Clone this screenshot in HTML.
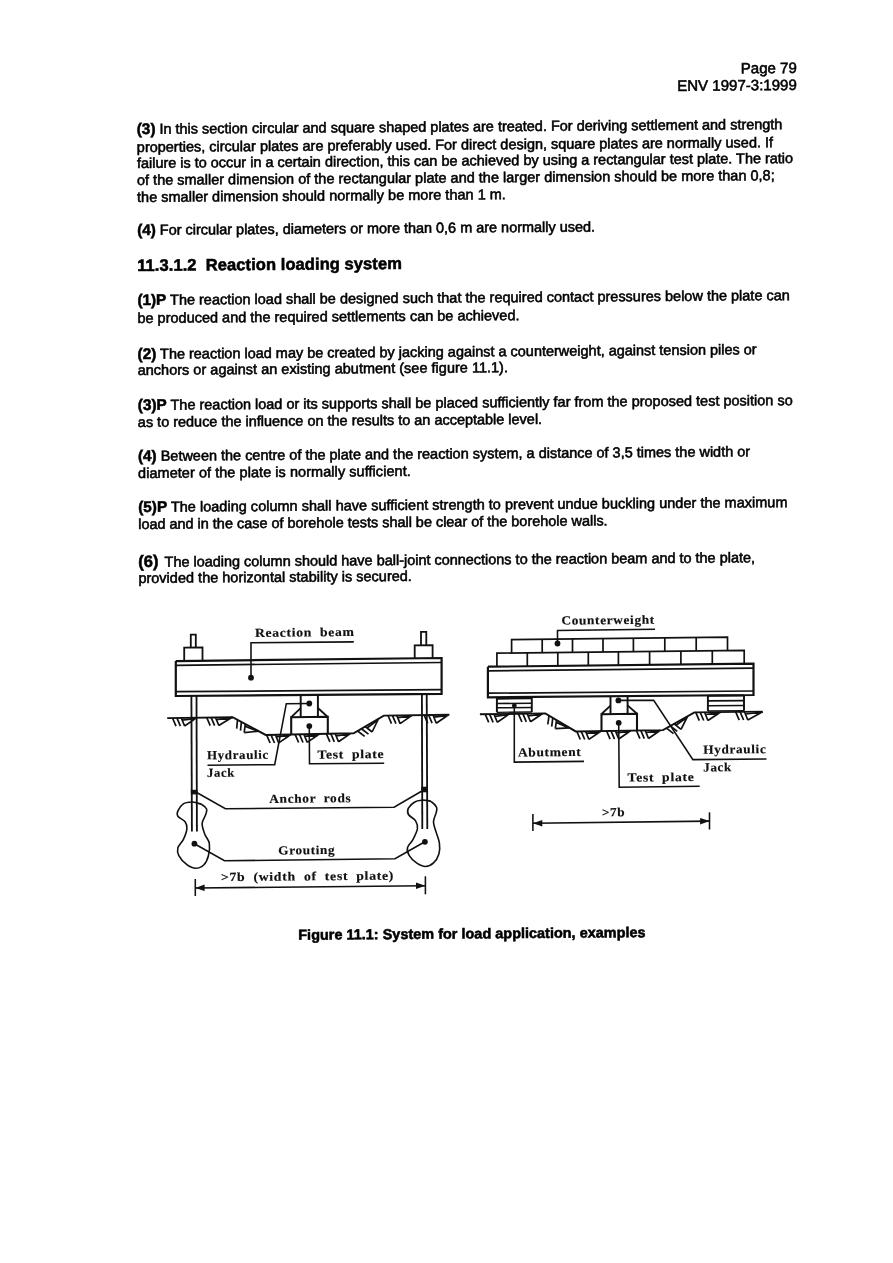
<!DOCTYPE html>
<html><head><meta charset="utf-8"><title>Page 79</title>
<style>
html,body{margin:0;padding:0;background:#fff;}
body{width:893px;height:1263px;position:relative;overflow:hidden;filter:blur(0.35px);font-family:"Liberation Sans",sans-serif;color:#000;}
#rot{position:absolute;left:0;top:0;width:893px;height:1263px;transform-origin:0 0;transform:matrix(1,-0.0075,0.0036,1,0,0);}
.l{position:absolute;white-space:nowrap;font-size:14.47px;line-height:20px;height:20px;-webkit-text-stroke:0.55px #000;}
.r{text-align:right;}
.h{font-weight:bold;font-size:16.55px;}
svg{position:absolute;left:0;top:0;}
svg text{font-family:"Liberation Serif",serif;font-weight:bold;fill:#111;}
</style></head><body>
<div id="rot">
<div class="l r" style="font-size:15.05px;left:496.5px;width:300px;top:64.23px"><span>Page 79</span></div>
<div class="l r" style="font-size:15.05px;left:496.5px;width:300px;top:81.43px"><span>ENV 1997-3:1999</span></div>
<div class="l" style="left:136.3px;top:120.12px;letter-spacing:-0.0039px"><span><b style="font-size:15.3px">(3)</b> In this section circular and square shaped plates are treated. For deriving settlement and strength</span></div>
<div class="l" style="left:136.3px;top:137.62px;letter-spacing:0.0003px"><span>properties, circular plates are preferably used. For direct design, square plates are normally used. If</span></div>
<div class="l" style="left:136.3px;top:154.42px;letter-spacing:-0.0057px"><span>failure is to occur in a certain direction, this can be achieved by using a rectangular test plate. The ratio</span></div>
<div class="l" style="left:136.3px;top:171.22px;letter-spacing:0.0156px"><span>of the smaller dimension of the rectangular plate and the larger dimension should be more than 0,8;</span></div>
<div class="l" style="left:136.3px;top:188.02px;letter-spacing:0.0246px"><span>the smaller dimension should normally be more than 1 m.</span></div>
<div class="l" style="left:136.3px;top:221.12px;letter-spacing:-0.0085px"><span><b style="font-size:15.3px">(4)</b> For circular plates, diameters or more than 0,6 m are normally used.</span></div>
<div class="l" style="left:136.3px;top:291.42px;letter-spacing:0.0041px"><span><b style="font-size:15.3px">(1)P</b> The reaction load shall be designed such that the required contact pressures below the plate can</span></div>
<div class="l" style="left:136.3px;top:308.92px;letter-spacing:0.0135px"><span>be produced and the required settlements can be achieved.</span></div>
<div class="l" style="left:136.3px;top:344.62px;letter-spacing:-0.0024px"><span><b style="font-size:15.3px">(2)</b> The reaction load may be created by jacking against a counterweight, against tension piles or</span></div>
<div class="l" style="left:136.3px;top:361.42px;letter-spacing:0.0251px"><span>anchors or against an existing abutment (see figure 11.1).</span></div>
<div class="l" style="left:136.3px;top:395.72px;letter-spacing:0.0080px"><span><b style="font-size:15.3px">(3)P</b> The reaction load or its supports shall be placed sufficiently far from the proposed test position so</span></div>
<div class="l" style="left:136.3px;top:412.52px;letter-spacing:-0.0049px"><span>as to reduce the influence on the results to an acceptable level.</span></div>
<div class="l" style="left:136.3px;top:446.92px;letter-spacing:-0.0012px"><span><b style="font-size:15.3px">(4)</b> Between the centre of the plate and the reaction system, a distance of 3,5 times the width or</span></div>
<div class="l" style="left:136.3px;top:464.02px;letter-spacing:0.0631px"><span>diameter of the plate is normally sufficient.</span></div>
<div class="l" style="left:136.3px;top:498.22px;letter-spacing:0.0254px"><span><b style="font-size:15.3px">(5)P</b> The loading column shall have sufficient strength to prevent undue buckling under the maximum</span></div>
<div class="l" style="left:136.3px;top:515.32px;letter-spacing:-0.0148px"><span>load and in the case of borehole tests shall be clear of the borehole walls.</span></div>
<div class="l" style="left:136.3px;top:551.52px;letter-spacing:-0.0078px"><span><b style="font-size:16.5px;margin-right:2.3px">(6)</b> The loading column should have ball-joint connections to the reaction beam and to the plate,</span></div>
<div class="l" style="left:136.3px;top:568.62px;letter-spacing:0.0194px"><span>provided the horizontal stability is secured.</span></div>
<div class="l h" style="left:136.3px;top:257.23px;letter-spacing:0.0562px"><span>11.3.1.2&nbsp; Reaction loading system</span></div>
<div class="l" style="font-weight:bold;font-size:14.42px;left:294.9px;top:927.28px;letter-spacing:0.0287px"><span>Figure 11.1: System for load application, examples</span></div>
</div>
<svg width="893" height="1263" viewBox="0 0 893 1263" fill="none" stroke="#111" stroke-linecap="butt" stroke-linejoin="miter">
<path d="M175.8 661.1 L441.6 658.0 L441.6 693.9 L175.8 696.0 L175.8 661.1" stroke-width="2.2" stroke-linejoin="miter"/>
<path d="M175.8 665.3 L441.6 662.5" stroke-width="1.7" />
<path d="M175.8 691.7 L441.6 689.6" stroke-width="1.7" />
<path d="M184.2 661.0 L184.2 647.6 L202.5 647.4 L202.5 660.8" stroke-width="1.82" />
<path d="M190.8 647.5 L190.8 634.6 L195.8 634.6 L195.8 647.5" stroke-width="1.82" />
<path d="M414.7 658.3 L414.7 645.3 L432.6 645.1 L432.6 658.1" stroke-width="1.82" />
<path d="M421.0 645.2 L421.0 631.9 L426.3 631.9 L426.3 645.2" stroke-width="1.82" />
<path d="M191.4 696.0 L191.9 831.5" stroke-width="1.82" />
<path d="M196.5 696.0 L196.9 831.5" stroke-width="1.82" />
<path d="M421.9 694.0 L422.3 828.9" stroke-width="1.82" />
<path d="M426.7 694.0 L427.3 828.9" stroke-width="1.82" />
<rect x="190.8" y="789.8" width="6.6" height="4.6" fill="#111" stroke="none"/>
<rect x="421.3" y="786.7" width="6.6" height="5.6" fill="#111" stroke="none"/>
<path d="M167.2 718.1 L232.6 717.2 L265.7 734.9 L353.6 733.3 L383.8 715.6 L449.4 714.8" stroke-width="1.95" />
<path d="M172.5 718.0 L176.0 726.2 M176.9 717.9 L180.4 726.1 M181.3 717.9 L184.6 726.0 M184.6 726.0 L196.5 717.9 M182.2 720.1 L196.5 718.3 " stroke-width="1.7"/>
<path d="M206.7 717.5 L210.2 725.7 M211.1 717.4 L214.6 725.6 M215.5 717.4 L218.8 725.5 M218.8 725.5 L232.2 717.3 M216.4 719.6 L232.2 717.7 " stroke-width="1.7"/>
<path d="M237.5 719.8 L236.7 728.6 M241.4 721.9 L240.5 730.7 M245.3 723.9 L244.2 732.7 M244.2 732.7 L258.6 731.2 M245.0 726.3 L258.4 731.6 " stroke-width="1.7"/>
<path d="M266.6 734.9 L270.1 743.0 M271.0 734.8 L274.5 743.0 M275.4 734.7 L278.7 742.9 M278.7 742.9 L290.6 734.7 M276.3 736.9 L290.6 735.1 " stroke-width="1.7"/>
<path d="M295.1 734.4 L298.6 742.5 M299.5 734.3 L303.0 742.5 M303.9 734.2 L307.2 742.4 M307.2 742.4 L319.1 734.2 M304.8 736.4 L319.1 734.6 " stroke-width="1.7"/>
<path d="M326.4 733.8 L329.9 741.9 M330.8 733.7 L334.3 741.9 M335.2 733.6 L338.5 741.8 M338.5 741.8 L350.4 733.6 M336.1 735.8 L350.4 734.0 " stroke-width="1.7"/>
<path d="M357.6 731.0 L364.7 736.4 M361.4 728.8 L368.5 734.1 M365.2 726.5 L372.1 732.0 M372.1 732.0 L378.4 719.0 M367.1 728.0 L378.6 719.4 " stroke-width="1.7"/>
<path d="M388.0 715.5 L391.5 723.7 M392.4 715.4 L395.9 723.6 M396.8 715.4 L400.1 723.6 M400.1 723.6 L412.0 715.4 M397.7 717.6 L412.0 715.8 " stroke-width="1.7"/>
<path d="M424.2 715.1 L427.7 723.3 M428.6 715.0 L432.1 723.2 M433.0 715.0 L436.3 723.2 M436.3 723.2 L448.2 715.0 M433.9 717.2 L448.2 715.4 " stroke-width="1.7"/>
<path d="M300.7 695.2 L300.7 716.9" stroke-width="1.95" />
<path d="M317.9 695.0 L317.9 716.7" stroke-width="1.95" />
<path d="M300.7 708.2 L291.2 717.2" stroke-width="1.82" />
<path d="M317.9 708.0 L327.8 717.0" stroke-width="1.82" />
<path d="M291.2 734.3 L291.2 717.2 L327.8 716.8 L327.8 733.7" stroke-width="2.08" />
<circle cx="309.3" cy="703.5" r="2.9" fill="#111" stroke="none"/>
<circle cx="309.3" cy="726.1" r="2.9" fill="#111" stroke="none"/>
<path d="M251.0 677.7 L251.0 642.8 L353.8 641.9" stroke-width="1.57" />
<circle cx="251.0" cy="677.7" r="2.9" fill="#111" stroke="none"/>
<path d="M309.3 703.5 L286.3 703.7 L274.7 764.6 L207.5 765.2" stroke-width="1.57" />
<path d="M309.3 726.1 L309.5 763.8 L384.2 763.2" stroke-width="1.57" />
<path d="M196.7 792.5 L225.4 808.8 L394.1 807.3 L421.9 791.0" stroke-width="1.57" />
<path d="M194.4 843.7 L224.5 860.8 L395.0 858.8 L424.9 841.8" stroke-width="1.57" />
<circle cx="194.4" cy="843.7" r="2.9" fill="#111" stroke="none"/>
<circle cx="424.9" cy="841.8" r="2.9" fill="#111" stroke="none"/>
<path d="M191.9 802.0 C189.7 802.1 185.6 802.3 183.3 803.8 C181.0 805.3 178.8 808.8 177.9 810.9 C177.0 813.0 176.7 814.5 177.9 816.3 C179.1 818.1 183.6 819.6 185.1 821.7 C186.6 823.8 187.2 825.9 186.9 828.9 C186.6 831.8 184.8 836.5 183.3 839.6 C181.8 842.7 178.7 845.0 177.9 847.7 C177.2 850.4 177.3 852.9 178.8 855.7 C180.3 858.6 184.0 862.6 186.9 864.7 C189.7 866.8 193.0 868.3 195.8 868.3 C198.7 868.3 201.8 866.8 203.9 864.7 C206.0 862.6 207.5 859.3 208.4 855.7 C209.3 852.2 209.9 846.8 209.3 843.2 C208.7 839.6 206.0 837.5 204.8 834.2 C203.6 830.9 202.0 826.8 202.1 823.5 C202.3 820.2 205.0 816.9 205.7 814.5 C206.4 812.1 207.2 810.8 206.6 809.1 C206.0 807.5 203.8 805.7 202.1 804.7 C200.5 803.6 198.4 803.3 196.7 802.9 C195.0 802.4 194.1 801.8 191.9 802.0 Z" stroke-width="1.6"/>
<path d="M421.9 800.2 C419.8 800.4 416.9 800.6 414.7 802.0 C412.5 803.3 409.5 806.2 408.4 808.2 C407.4 810.3 407.2 812.4 408.4 814.5 C409.6 816.6 414.1 818.4 415.6 820.8 C417.1 823.2 417.8 825.7 417.4 828.9 C416.9 832.0 414.5 836.5 412.9 839.6 C411.3 842.7 408.1 845.0 407.5 847.7 C406.9 850.4 407.8 853.2 409.3 855.7 C410.8 858.3 413.8 861.1 416.5 862.9 C419.2 864.7 422.6 866.5 425.4 866.5 C428.3 866.5 431.3 865.0 433.5 862.9 C435.8 860.8 437.9 857.2 438.9 853.9 C439.9 850.7 439.9 846.8 439.4 843.2 C439.0 839.6 437.2 836.0 436.2 832.4 C435.2 828.9 433.5 825.0 433.5 821.7 C433.5 818.4 435.7 815.1 436.2 812.7 C436.7 810.3 437.3 809.1 436.6 807.3 C435.8 805.6 433.3 803.1 431.7 802.0 C430.2 800.8 428.9 800.8 427.2 800.5 C425.6 800.2 424.0 799.9 421.9 800.2 Z" stroke-width="1.6"/>
<path d="M195.3 879.0 L195.3 896.0" stroke-width="1.57" />
<path d="M425.4 876.3 L425.4 894.3" stroke-width="1.57" />
<path d="M195.3 888.0 L425.4 885.7" stroke-width="1.57" />
<path d="M195.3 888 L204.6 884.5 L204.6 891.1 Z" fill="#111" stroke="none"/>
<path d="M425.4 885.7 L416.0 882.5 L416.0 889.1 Z" fill="#111" stroke="none"/>
<text x="255.0" y="636.9" font-size="12.4" textLength="99.7" lengthAdjust="spacingAndGlyphs" transform="rotate(-0.55 255.0 636.9)" stroke="#111" stroke-width="0.15" style="letter-spacing:0.6px;word-spacing:3.5px" xml:space="preserve">Reaction beam</text>
<text x="207.0" y="759.3" font-size="12.4" textLength="62.0" lengthAdjust="spacingAndGlyphs" transform="rotate(-0.55 207.0 759.3)" stroke="#111" stroke-width="0.15" style="letter-spacing:0.6px;word-spacing:3.5px" xml:space="preserve">Hydraulic</text>
<text x="207.0" y="776.9" font-size="12.4" textLength="28.0" lengthAdjust="spacingAndGlyphs" transform="rotate(-0.55 207.0 776.9)" stroke="#111" stroke-width="0.15" style="letter-spacing:0.6px;word-spacing:3.5px" xml:space="preserve">Jack</text>
<text x="317.4" y="758.7" font-size="12.4" textLength="66.8" lengthAdjust="spacingAndGlyphs" transform="rotate(-0.55 317.4 758.7)" stroke="#111" stroke-width="0.15" style="letter-spacing:0.6px;word-spacing:3.5px" xml:space="preserve">Test plate</text>
<text x="269.3" y="802.9" font-size="12.4" textLength="82.1" lengthAdjust="spacingAndGlyphs" transform="rotate(-0.55 269.3 802.9)" stroke="#111" stroke-width="0.15" style="letter-spacing:0.6px;word-spacing:3.5px" xml:space="preserve">Anchor rods</text>
<text x="278.3" y="854.5" font-size="12.4" textLength="57.0" lengthAdjust="spacingAndGlyphs" transform="rotate(-0.55 278.3 854.5)" stroke="#111" stroke-width="0.15" style="letter-spacing:0.6px;word-spacing:3.5px" xml:space="preserve">Grouting</text>
<text x="220.9" y="881.2" font-size="12.4" textLength="173.2" lengthAdjust="spacingAndGlyphs" transform="rotate(-0.55 220.9 881.2)" stroke="#111" stroke-width="0.15" style="letter-spacing:0.6px;word-spacing:3.5px" xml:space="preserve">&gt;7b (width of test plate)</text>
<path d="M487.9 666.7 L753.5 663.6 L753.5 695.0 L487.9 697.3 L487.9 666.7" stroke-width="2.2" />
<path d="M487.9 670.8 L753.5 668.1" stroke-width="1.7" />
<path d="M487.9 693.2 L753.5 691.0" stroke-width="1.7" />
<path d="M496.9 666.6 L496.9 653.2 L744.2 650.3 L744.2 663.7" stroke-width="1.7" />
<path d="M527.3 666.2 L527.3 652.8" stroke-width="1.7" />
<path d="M557.8 665.9 L557.8 652.5" stroke-width="1.7" />
<path d="M588.3 665.5 L588.3 652.1" stroke-width="1.7" />
<path d="M618.4 665.2 L618.4 651.8" stroke-width="1.7" />
<path d="M649.6 664.8 L649.6 651.4" stroke-width="1.7" />
<path d="M680.9 664.4 L680.9 651.0" stroke-width="1.7" />
<path d="M712.3 664.1 L712.3 650.7" stroke-width="1.7" />
<path d="M511.6 653.0 L511.6 639.6 L727.5 637.1 L727.5 650.5" stroke-width="1.7" />
<path d="M542.2 652.7 L542.2 639.3" stroke-width="1.7" />
<path d="M572.5 652.3 L572.5 638.9" stroke-width="1.7" />
<path d="M603.0 652.0 L603.0 638.6" stroke-width="1.7" />
<path d="M633.4 651.6 L633.4 638.2" stroke-width="1.7" />
<path d="M664.8 651.2 L664.8 637.8" stroke-width="1.7" />
<path d="M696.2 650.9 L696.2 637.5" stroke-width="1.7" />
<circle cx="557.5" cy="643.5" r="2.9" fill="#111" stroke="none"/>
<path d="M557.5 643.5 L557.5 630.5 L655.0 629.3" stroke-width="1.57" />
<path d="M496.9 697.2 L496.9 712.3" stroke-width="1.95" />
<path d="M531.8 696.9 L531.8 712.0" stroke-width="1.95" />
<path d="M496.9 698.6 L531.8 698.3" stroke-width="2.08" />
<path d="M496.9 703.5 L531.8 703.2" stroke-width="1.57" />
<path d="M496.9 707.8 L531.8 707.5" stroke-width="1.57" />
<path d="M496.9 712.3 L531.8 712.0" stroke-width="1.32" />
<path d="M707.9 695.4 L707.9 711.0" stroke-width="1.95" />
<path d="M744.0 695.1 L744.0 710.7" stroke-width="1.95" />
<path d="M707.9 695.8 L744.0 695.5" stroke-width="2.08" />
<path d="M707.9 700.9 L744.0 700.6" stroke-width="1.57" />
<path d="M707.9 705.8 L744.0 705.5" stroke-width="1.57" />
<path d="M707.9 711.0 L744.0 710.7" stroke-width="1.32" />
<path d="M479.9 714.3 L545.3 713.4 L575.7 731.4 L663.0 730.1 L694.4 712.4 L762.5 711.6" stroke-width="1.95" />
<path d="M485.2 714.2 L488.7 722.4 M489.6 714.1 L493.1 722.3 M494.0 714.1 L497.3 722.2 M497.3 722.2 L509.2 714.1 M494.9 716.3 L509.2 714.5 " stroke-width="1.7"/>
<path d="M518.4 713.8 L521.9 722.0 M522.8 713.7 L526.3 721.9 M527.2 713.7 L530.5 721.8 M530.5 721.8 L542.4 713.7 M528.1 715.9 L542.4 714.1 " stroke-width="1.7"/>
<path d="M549.0 715.6 L547.8 724.4 M552.8 717.8 L551.7 726.6 M556.6 720.0 L555.3 728.7 M555.3 728.7 L569.7 727.8 M556.3 722.4 L569.5 728.1 " stroke-width="1.7"/>
<path d="M576.8 731.4 L580.3 739.5 M581.2 731.3 L584.7 739.5 M585.6 731.3 L588.9 739.4 M588.9 739.4 L600.8 731.2 M586.5 733.4 L600.8 731.6 " stroke-width="1.7"/>
<path d="M606.6 731.0 L610.1 739.1 M611.0 730.9 L614.5 739.1 M615.4 730.9 L618.7 739.0 M618.7 739.0 L630.6 730.8 M616.3 733.0 L630.6 731.2 " stroke-width="1.7"/>
<path d="M636.4 730.5 L639.9 738.6 M640.8 730.4 L644.3 738.6 M645.2 730.4 L648.5 738.5 M648.5 738.5 L660.4 730.3 M646.1 732.5 L660.4 730.7 " stroke-width="1.7"/>
<path d="M666.5 728.1 L673.5 733.6 M670.3 725.9 L677.3 731.4 M674.2 723.8 L681.0 729.3 M681.0 729.3 L687.5 716.5 M676.0 725.2 L687.7 716.8 " stroke-width="1.7"/>
<path d="M695.8 712.4 L699.3 720.6 M700.2 712.3 L703.7 720.5 M704.6 712.3 L707.9 720.5 M707.9 720.5 L720.4 712.3 M705.5 714.5 L720.4 712.7 " stroke-width="1.7"/>
<path d="M735.7 711.9 L739.2 720.1 M740.1 711.8 L743.6 720.0 M744.5 711.8 L747.8 720.0 M747.8 720.0 L762.7 711.8 M745.4 714.0 L762.7 712.2 " stroke-width="1.7"/>
<path d="M610.5 696.3 L610.5 713.8" stroke-width="1.95" />
<path d="M627.6 696.1 L627.6 713.6" stroke-width="1.95" />
<path d="M610.5 705.7 L601.5 714.0" stroke-width="1.82" />
<path d="M627.6 705.4 L637.0 713.7" stroke-width="1.82" />
<path d="M601.5 731.0 L601.5 714.2 L637.0 713.7 L637.0 730.5" stroke-width="2.08" />
<circle cx="618.4" cy="700.4" r="2.9" fill="#111" stroke="none"/>
<circle cx="618.7" cy="722.8" r="2.9" fill="#111" stroke="none"/>
<circle cx="514.3" cy="705.7" r="2.4" fill="#111" stroke="none"/>
<path d="M514.3 705.7 L514.3 762.1 L584.0 761.4" stroke-width="1.57" />
<path d="M618.7 722.8 L619.2 787.2 L699.7 786.3" stroke-width="1.57" />
<path d="M618.4 700.4 L653.7 700.2 L692.9 759.6 L766.5 759.0" stroke-width="1.57" />
<path d="M532.9 813.9 L532.9 831.1" stroke-width="1.57" />
<path d="M709.5 812.3 L709.5 829.5" stroke-width="1.57" />
<path d="M532.9 823.3 L709.5 821.1" stroke-width="1.57" />
<path d="M532.9 823.3 L542.3 819.9 L542.3 826.5 Z" fill="#111" stroke="none"/>
<path d="M709.5 821.1 L700.1 817.9 L700.1 824.5 Z" fill="#111" stroke="none"/>
<text x="561.4" y="624.6" font-size="12.4" textLength="93.5" lengthAdjust="spacingAndGlyphs" transform="rotate(-0.55 561.4 624.6)" stroke="#111" stroke-width="0.15" style="letter-spacing:0.6px;word-spacing:3.5px" xml:space="preserve">Counterweight</text>
<text x="517.9" y="756.5" font-size="12.4" textLength="63.6" lengthAdjust="spacingAndGlyphs" transform="rotate(-0.55 517.9 756.5)" stroke="#111" stroke-width="0.15" style="letter-spacing:0.6px;word-spacing:3.5px" xml:space="preserve">Abutment</text>
<text x="627.6" y="781.6" font-size="12.4" textLength="66.8" lengthAdjust="spacingAndGlyphs" transform="rotate(-0.55 627.6 781.6)" stroke="#111" stroke-width="0.15" style="letter-spacing:0.6px;word-spacing:3.5px" xml:space="preserve">Test plate</text>
<text x="703.2" y="753.7" font-size="12.4" textLength="63.3" lengthAdjust="spacingAndGlyphs" transform="rotate(-0.55 703.2 753.7)" stroke="#111" stroke-width="0.15" style="letter-spacing:0.6px;word-spacing:3.5px" xml:space="preserve">Hydraulic</text>
<text x="703.2" y="771.5" font-size="12.4" textLength="28.8" lengthAdjust="spacingAndGlyphs" transform="rotate(-0.55 703.2 771.5)" stroke="#111" stroke-width="0.15" style="letter-spacing:0.6px;word-spacing:3.5px" xml:space="preserve">Jack</text>
<text x="601.9" y="816.4" font-size="12.4" textLength="23.5" lengthAdjust="spacingAndGlyphs" transform="rotate(-0.55 601.9 816.4)" stroke="#111" stroke-width="0.15" style="letter-spacing:0.6px;word-spacing:3.5px" xml:space="preserve">&gt;7b</text>
</svg>
</body></html>
